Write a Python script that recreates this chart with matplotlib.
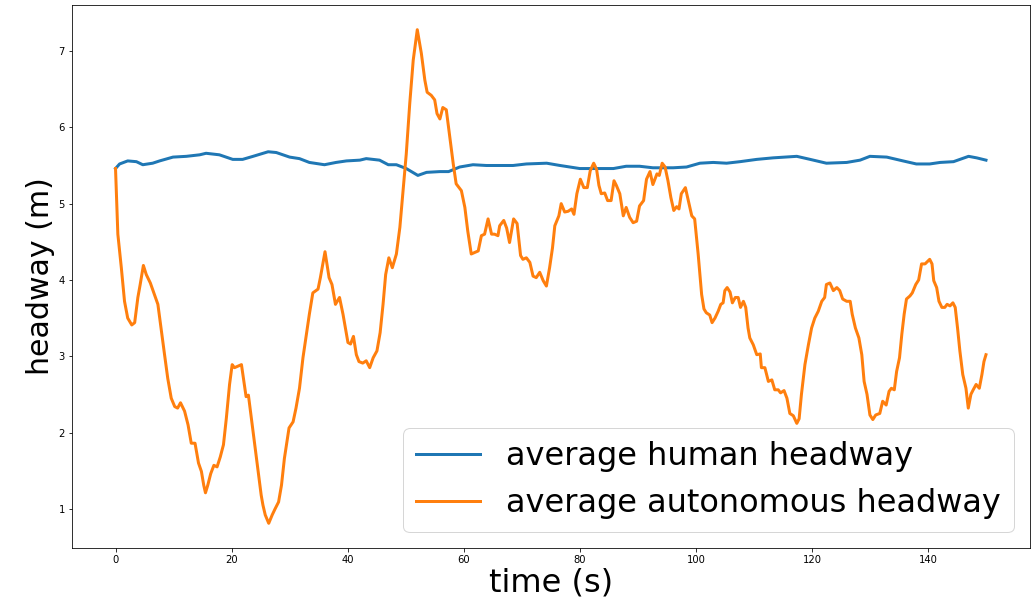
import numpy as np
import matplotlib
matplotlib.use("Agg")
import matplotlib.pyplot as plt

# average human headway
human_t = [0, 0.7, 2.1, 3.6, 4.7, 6.4, 7.6, 9.9, 12.2, 14.5, 15.6, 17.9, 20.2, 21.9,
           23.7, 26.3, 27.7, 30.0, 31.7, 33.4, 36.0, 38.0, 39.8, 42.1, 43.2, 45.5,
           47.0, 48.4, 50.1, 52.1, 53.6, 55.9, 57.4, 59.3, 61.6, 63.9, 66.2, 68.5,
           70.8, 74.3, 76.6, 80.0, 83.5, 85.8, 88.0, 90.3, 92.6, 96.1, 98.4, 100.7,
           103.0, 105.3, 107.6, 110.5, 113.3, 117.4, 119.7, 122.5, 126.0, 128.3,
           130.0, 132.9, 135.7, 138.0, 140.3, 142.1, 144.4, 147.0, 148.4, 150.0]
human_v = [5.46, 5.52, 5.56, 5.55, 5.51, 5.53, 5.56, 5.61, 5.62, 5.64, 5.66, 5.64, 5.58, 5.58,
           5.62, 5.68, 5.67, 5.61, 5.59, 5.54, 5.51, 5.54, 5.56, 5.57, 5.59, 5.57,
           5.51, 5.51, 5.46, 5.37, 5.41, 5.42, 5.42, 5.48, 5.51, 5.50, 5.50, 5.50,
           5.52, 5.53, 5.50, 5.46, 5.46, 5.46, 5.49, 5.49, 5.47, 5.47, 5.48, 5.53,
           5.54, 5.53, 5.55, 5.58, 5.60, 5.62, 5.58, 5.53, 5.54, 5.57,
           5.62, 5.61, 5.56, 5.52, 5.52, 5.54, 5.55, 5.62, 5.60, 5.57]

# average autonomous headway
auto_t = [0, 0.4, 1.0, 1.55, 2.1, 2.8, 3.3, 3.85, 4.25, 4.8, 5.3, 6.0, 6.7, 7.3, 7.9,
          8.45, 9.0, 9.6, 10.2, 10.7, 11.2, 11.9, 12.5, 13.05, 13.7, 14.3, 14.8, 15.2,
          15.5, 15.9, 16.4, 16.95, 17.5, 18.05, 18.6, 19.1, 19.65, 20.1, 20.5, 21.1,
          21.7, 22.2, 22.5, 22.9, 23.4, 24.0, 24.5, 25.1, 25.4, 25.8, 26.4, 27.0, 27.5,
          28.1, 28.6, 29.1, 29.9, 30.6, 31.1, 31.7, 32.3, 33.4, 34.0, 34.9, 35.3, 36.1,
          36.8, 37.3, 37.9, 38.6, 39.2, 40.05, 40.5, 41.0, 41.5, 41.95, 42.6, 43.2,
          43.8, 44.4, 45.05, 45.6, 46.1, 46.55, 47.1, 47.7, 48.4, 49.0, 49.5, 50.1,
          50.7, 51.3, 52.0, 52.7, 53.3, 53.7, 54.4, 55.0, 55.4, 55.9, 56.4, 57.0, 57.6,
          58.2, 58.7, 59.6, 60.2, 60.7, 61.3, 61.9, 62.5, 63.05, 63.6, 64.2, 64.8,
          65.3, 65.9, 66.2, 66.9, 67.4, 67.9, 68.6, 69.2, 69.8, 70.2, 70.8, 71.4,
          71.95, 72.5, 73.1, 73.7, 74.25, 74.8, 75.3, 75.7, 76.4, 76.8, 77.4, 78.0,
          78.6, 79.0, 79.5, 80.1, 80.7, 81.3, 81.8, 82.4, 82.9, 83.3, 83.7, 84.3, 84.8,
          85.4, 85.9, 86.3, 86.9, 87.5, 88.0, 88.6, 89.2, 89.8, 90.3, 91.0, 91.5,
          92.1, 92.6, 93.3, 93.7, 94.2, 94.7, 95.2, 95.7, 96.2, 96.7, 97.1, 97.5,
          98.2, 98.7, 99.3, 99.8, 100.4, 101.0, 101.4, 101.8, 102.4, 102.8, 103.3,
          103.85, 104.3, 104.7, 105.0, 105.4, 105.9, 106.3, 106.8, 107.3, 107.7,
          108.2, 108.6, 109.0, 109.3, 109.9, 110.5, 111.1, 111.3, 111.9, 112.5, 113.1,
          113.6, 114.2, 114.6, 115.2, 115.7, 116.2, 116.8, 117.4, 117.8, 118.2, 118.8,
          119.4, 119.95, 120.5, 121.1, 121.7, 122.2, 122.5, 123.1, 123.7, 124.3, 124.8,
          125.3, 126.0, 126.6, 126.95, 127.5, 128.1, 128.6, 129.0, 129.5, 130.0, 130.5,
          131.0, 131.7, 132.2, 132.8, 133.3, 133.7, 134.2, 134.6, 135.1, 135.5, 135.9,
          136.3, 136.9, 137.3, 137.9, 138.4, 138.9, 139.5, 139.9, 140.3, 140.7, 141.0,
          141.5, 141.9, 142.4, 142.9, 143.3, 143.8, 144.3, 144.7, 145.1, 145.5, 146.0,
          146.55, 146.95, 147.4, 147.8, 148.3, 148.85, 149.3, 149.65, 150.0]
auto_v = [5.46, 4.6, 4.16, 3.72, 3.5, 3.41, 3.44, 3.77, 3.94, 4.19, 4.07, 3.96, 3.81, 3.68, 3.33,
          3.02, 2.71, 2.45, 2.34, 2.32, 2.39, 2.28, 2.1, 1.86, 1.86, 1.6, 1.49, 1.31,
          1.21, 1.31, 1.46, 1.57, 1.55, 1.68, 1.84, 2.19, 2.63, 2.89, 2.85, 2.87,
          2.89, 2.63, 2.47, 2.49, 2.19, 1.84, 1.53, 1.18, 1.05, 0.92, 0.81, 0.92, 1.0,
          1.09, 1.31, 1.66, 2.06, 2.14, 2.32, 2.58, 2.98, 3.55, 3.83, 3.88, 4.03, 4.37,
          4.03, 3.94, 3.68, 3.77, 3.55, 3.18, 3.16, 3.26, 3.02, 2.93, 2.91, 2.94,
          2.85, 2.98, 3.07, 3.31, 3.68, 4.07, 4.29, 4.16, 4.34, 4.69, 5.13, 5.65,
          6.31, 6.88, 7.28, 6.97, 6.62, 6.46, 6.42, 6.36, 6.18, 6.11, 6.26, 6.23, 5.87,
          5.52, 5.26, 5.17, 4.95, 4.64, 4.34, 4.36, 4.38, 4.58, 4.60, 4.80, 4.60,
          4.60, 4.58, 4.71, 4.78, 4.68, 4.49, 4.80, 4.74, 4.32, 4.27, 4.29, 4.23,
          4.05, 4.03, 4.10, 3.99, 3.92, 4.16, 4.42, 4.71, 4.84, 5.0, 4.89, 4.9,
          4.93, 4.86, 5.13, 5.32, 5.21, 5.21, 5.43, 5.53, 5.45, 5.24, 5.13, 5.14, 5.04,
          5.04, 5.30, 5.24, 5.13, 4.84, 4.95, 4.82, 4.75, 4.77, 4.97, 5.04, 5.32,
          5.42, 5.25, 5.39, 5.37, 5.53, 5.48, 5.30, 5.08, 4.91, 4.96, 4.93, 5.13,
          5.21, 5.04, 4.84, 4.80, 4.34, 3.81, 3.62, 3.57, 3.54, 3.44, 3.50,
          3.59, 3.68, 3.70, 3.86, 3.90, 3.84, 3.70, 3.77, 3.77, 3.64,
          3.72, 3.64, 3.37, 3.24, 3.15, 3.02, 3.03, 2.85, 2.85, 2.67, 2.69,
          2.56, 2.56, 2.52, 2.55, 2.45, 2.25, 2.22, 2.12, 2.18, 2.50, 2.89,
          3.15, 3.37, 3.50, 3.59, 3.72, 3.77, 3.94, 3.96, 3.86, 3.90, 3.86,
          3.75, 3.72, 3.72, 3.55, 3.37, 3.24, 3.02, 2.67, 2.50, 2.23, 2.17,
          2.23, 2.25, 2.41, 2.36, 2.54, 2.58, 2.56, 2.80, 2.98, 3.29, 3.55,
          3.75, 3.79, 3.83, 3.94, 4.0, 4.21, 4.21, 4.24, 4.27, 4.21, 3.99,
          3.90, 3.72, 3.64, 3.64, 3.68, 3.66, 3.70, 3.64, 3.37, 3.07, 2.76,
          2.58, 2.32, 2.50, 2.56, 2.63, 2.58, 2.76, 2.93, 3.02]

fig = plt.figure(figsize=(1031 / 72, 603 / 72), dpi=72)
ax = fig.add_axes([72 / 1031, 1 - 548 / 603, (1029.5 - 72) / 1031, (548 - 5) / 603])
ax.plot(human_t, human_v, color="#1f77b4", lw=3, label="average human headway")
ax.plot(auto_t, auto_v, color="#ff7f0e", lw=3, label="average autonomous headway")
ax.set_xlabel("time (s)", fontsize=32, labelpad=2)
ax.set_ylabel("headway (m)", fontsize=30)
ax.legend(loc="lower right", fontsize=32, borderaxespad=0.5)
fig.savefig("out.png", dpi=72)
